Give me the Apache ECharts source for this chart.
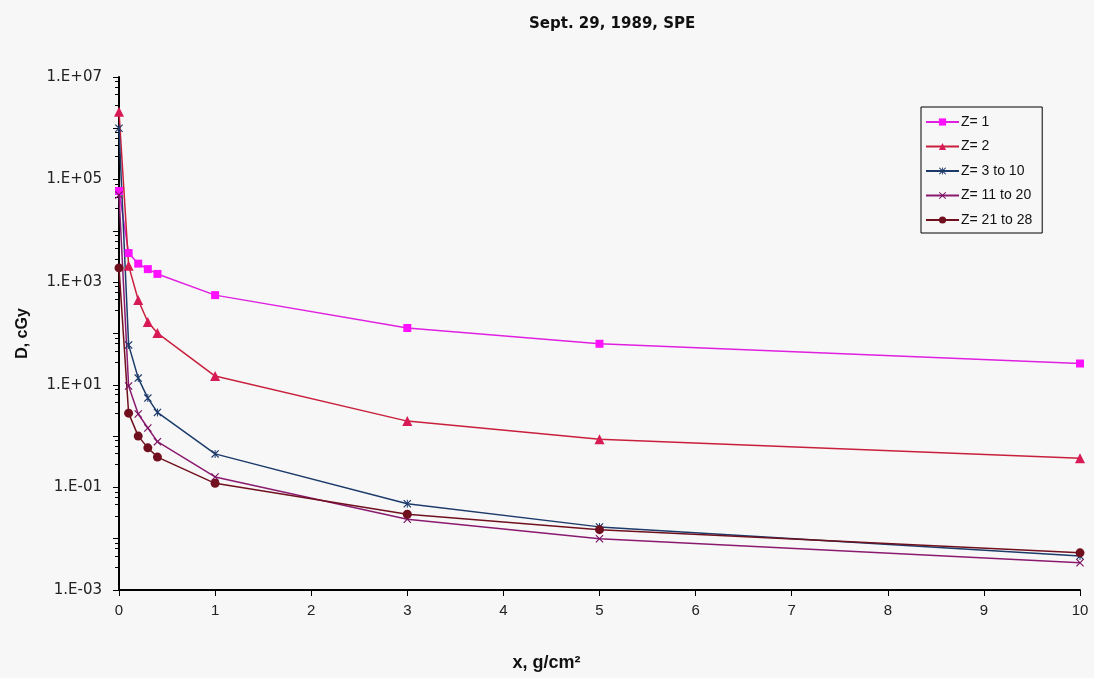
<!DOCTYPE html>
<html>
<head>
    <meta charset="utf-8">
    <title>Sept. 29, 1989, SPE</title>
    <script src="https://cdn.jsdelivr.net/npm/echarts@6/dist/echarts.min.js"></script>
    <style>
        html, body { margin: 0; padding: 0; background: #f7f7f7; }
    </style>
</head>
<body>
    <div id="main" style="width: 1094px;height:678px;"></div>
    <script type="text/javascript">
        // depth, g/cm2
        var xValues = [0, 0.1, 0.2, 0.3, 0.4, 1, 3, 5, 10];
        // dose, cGy
        var z1     = [6.0e4, 3.7e3, 2.3e3, 1.8e3, 1.45e3, 560, 128, 63, 26];
        var z2     = [2.1e6, 2.1e3, 450, 167, 102, 14.8, 1.96, 0.87, 0.37];
        var z3to10 = [1.0e6, 60, 13.5, 5.5, 2.9, 0.45, 0.048, 0.017, 0.0046];
        var z11to20 = [5.0e4, 9.5, 2.7, 1.44, 0.78, 0.16, 0.024, 0.010, 0.0034];
        var z21to28 = [1.9e3, 2.8, 1.0, 0.59, 0.39, 0.12, 0.030, 0.015, 0.0053];
        var seriesNames = ['Z= 1', 'Z= 2', 'Z= 3 to 10', 'Z= 11 to 20', 'Z= 21 to 28'];

        function pairs(ys) {
            return xValues.map(function (x, i) { return [x, ys[i]]; });
        }

        var crossPath = 'path://M0,1L1,0L5,4L9,0L10,1L6,5L10,9L9,10L5,6L1,10L0,9L4,5Z';
        var starPath = 'path://M0,1L1,0L4.4,3.4L4.4,0L5.6,0L5.6,3.4L9,0L10,1L6,5L10,9L9,10L5.6,6.6L5.6,10L4.4,10L4.4,6.6L1,10L0,9L4,5Z';

        // only odd powers get a label, like 1.E+07 ... 1.E-03
        function yLabel(v) {
            var e = Math.round(Math.log10(v));
            if (Math.abs(e) % 2 !== 1) return '';
            var a = Math.abs(e);
            return '1.E' + (e >= 0 ? '+' : '-') + (a < 10 ? '0' + a : a);
        }

        var myChart = echarts.init(document.getElementById('main'));

        var font = 'Liberation Sans, Arial, sans-serif';
        var option = {
            backgroundColor: '#f7f7f7',
            animation: false,
            title: {
                text: 'Sept. 29, 1989, SPE',
                left: 524,
                top: 12,
                textStyle: { fontSize: 15, fontWeight: 'bold', color: '#111', fontFamily: 'DejaVu Sans' }
            },
            legend: {
                orient: 'vertical',
                left: 921,
                top: 107,
                width: 121,
                padding: [8, 10, 6, 4],
                itemGap: 10.5,
                itemWidth: 33,
                itemHeight: 9,
                borderColor: '#000',
                borderWidth: 1,
                data: seriesNames,
                textStyle: { fontSize: 14, color: '#111', fontFamily: font, padding: [0, 0, 0, -3] }
            },
            grid: {
                left: 119,
                right: 14,
                top: 77,
                bottom: 88,
                containLabel: false
            },
            xAxis: {
                type: 'value',
                min: 0,
                max: 10,
                interval: 1,
                name: 'x, g/cm²',
                nameLocation: 'middle',
                nameGap: 64,
                nameTextStyle: { fontSize: 18, fontWeight: 'bold', color: '#111', fontFamily: font, padding: [0, 106, 0, 0] },
                axisLine: { lineStyle: { color: '#000', width: 2 } },
                axisTick: { show: true, length: 6, lineStyle: { color: '#000', width: 1 } },
                axisLabel: { fontSize: 15, color: '#222', margin: 13, fontFamily: font },
                splitLine: { show: false }
            },
            yAxis: {
                type: 'log',
                logBase: 10,
                min: 1e-3,
                max: 1e7,
                interval: 1,
                name: 'D, cGy',
                nameLocation: 'middle',
                nameGap: 88,
                nameTextStyle: { fontSize: 16, fontWeight: 'bold', color: '#111', fontFamily: font },
                axisLine: { show: true, lineStyle: { color: '#000', width: 2 } },
                axisTick: { show: true, length: 6, lineStyle: { color: '#000', width: 1 } },
                minorTick: { show: true, splitNumber: 5, length: 4, lineStyle: { color: '#000' } },
                axisLabel: { fontSize: 15, color: '#222', margin: 17, fontFamily: 'DejaVu Sans', formatter: yLabel },
                splitLine: { show: false }
            },
            series: [
                {
                    name: seriesNames[0], type: 'line', data: pairs(z1),
                    symbol: 'rect', symbolSize: 8,
                    lineStyle: { color: '#e020e0', width: 1.5 },
                    itemStyle: { color: '#ff10ff' }
                },
                {
                    name: seriesNames[1], type: 'line', data: pairs(z2),
                    symbol: 'triangle', symbolSize: 10,
                    lineStyle: { color: '#c8203c', width: 1.5 },
                    itemStyle: { color: '#d81a55' }
                },
                {
                    name: seriesNames[2], type: 'line', data: pairs(z3to10),
                    symbol: starPath, symbolSize: 8,
                    lineStyle: { color: '#1c3a6a', width: 1.5 },
                    itemStyle: { color: '#1c3a6a' }
                },
                {
                    name: seriesNames[3], type: 'line', data: pairs(z11to20),
                    symbol: crossPath, symbolSize: 8,
                    lineStyle: { color: '#8a1a70', width: 1.5 },
                    itemStyle: { color: '#7a1060' }
                },
                {
                    name: seriesNames[4], type: 'line', data: pairs(z21to28),
                    symbol: 'circle', symbolSize: 9,
                    lineStyle: { color: '#70101e', width: 1.5 },
                    itemStyle: { color: '#70101e' }
                }
            ]
        };
        myChart.setOption(option);
    </script>
</body>
</html>
